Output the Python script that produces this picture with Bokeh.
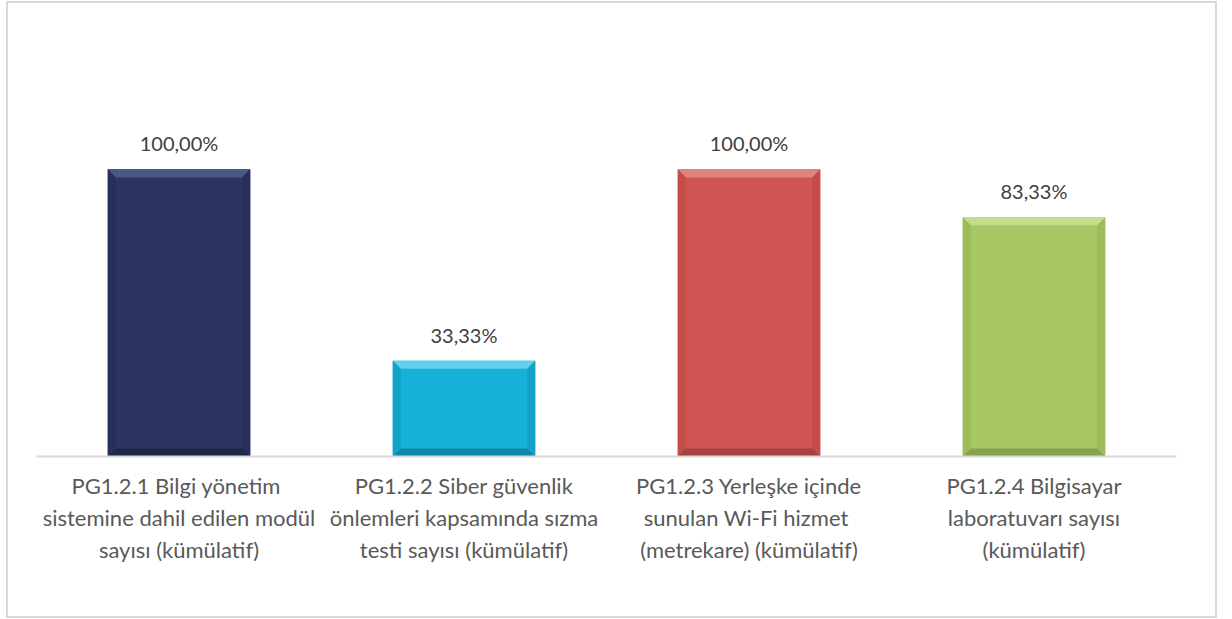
from bokeh.plotting import figure
from bokeh.models import ColumnDataSource, Range1d, FixedTicker
from bokeh.core.properties import value
from bokeh.embed import file_html
from bokeh.resources import INLINE

categories = [
    "PG1.2.1  Bilgi yönetim\nsistemine dahil edilen modül\nsayısı (kümülatif)",
    "PG1.2.2 Siber güvenlik\nönlemleri kapsamında sızma\ntesti sayısı (kümülatif)",
    "PG1.2.3 Yerleşke içinde\nsunulan  Wi-Fi hizmet\n(metrekare) (kümülatif)",
    "PG1.2.4 Bilgisayar\nlaboratuvarı sayısı\n(kümülatif)",
]
values = [100.00, 33.33, 100.00, 83.33]
labels = ["100,00%", "33,33%", "100,00%", "83,33%"]
colors = ["#2b3560", "#17b0d8", "#cf5553", "#a6c764"]
top_colors = ["#4b5784", "#5fd0ee", "#e08280", "#c4dc8e"]
side_colors = ["#27305a", "#14a2c8", "#c24d4b", "#9cbd5a"]
bottom_colors = ["#1f2848", "#0f86a6", "#a84240", "#86a34c"]

BAR_W = 0.5
BEV_X = 0.028   # bevel depth in x-data units
BEV_Y = 2.8     # bevel depth in y-data units

xs = [i + 0.5 for i in range(len(values))]
src = ColumnDataSource(dict(x=xs, top=values, label=labels, color=colors))

p = figure(
    width=1211, height=617,
    x_range=Range1d(0, 4), y_range=Range1d(0, 140),
    output_backend="svg", toolbar_location=None,
    min_border_left=28, min_border_right=43, min_border_top=51, min_border_bottom=164,
    styles={"position": "relative", "top": "1px", "left": "6px",
            "border": "2px solid #d9d9d9", "box-sizing": "border-box"},
)
p.outline_line_color = None
p.background_fill_color = "white"
p.border_fill_color = "white"
p.grid.visible = False
p.yaxis.visible = False

# main bar body
p.vbar(x="x", top="top", bottom=0, width=BAR_W, source=src,
       fill_color="color", line_color=None)

# bevel facets
px, py, pc = [], [], []
for x, t, ct, cs, cb in zip(xs, values, top_colors, side_colors, bottom_colors):
    l, r = x - BAR_W / 2, x + BAR_W / 2
    px.append([l, r, r - BEV_X, l + BEV_X]); py.append([t, t, t - BEV_Y, t - BEV_Y]); pc.append(ct)
    px.append([l, l + BEV_X, l + BEV_X, l]); py.append([t, t - BEV_Y, BEV_Y, 0]); pc.append(cs)
    px.append([r, r - BEV_X, r - BEV_X, r]); py.append([t, t - BEV_Y, BEV_Y, 0]); pc.append(cs)
    px.append([l, r, r - BEV_X, l + BEV_X]); py.append([0, 0, BEV_Y, BEV_Y]); pc.append(cb)
p.patches(px, py, fill_color=pc, line_color=None)

p.text(x="x", y="top", text="label", source=src, text_align="center",
       text_baseline="middle", y_offset=-26, text_font=value("Lato"),
       text_font_size="20px", text_color="#404040")

ax = p.xaxis[0]
ax.ticker = FixedTicker(ticks=xs)
ax.major_label_overrides = {x: c for x, c in zip(xs, categories)}
ax.major_label_text_font = "Lato"
ax.major_label_text_font_size = "22px"
ax.major_label_text_color = "#595959"
ax.major_label_standoff = 9
ax.major_tick_line_color = None
ax.minor_tick_line_color = None
ax.axis_line_color = "#d9d9d9"
ax.axis_line_width = 2

open("out.html", "w").write(file_html(p, INLINE))
